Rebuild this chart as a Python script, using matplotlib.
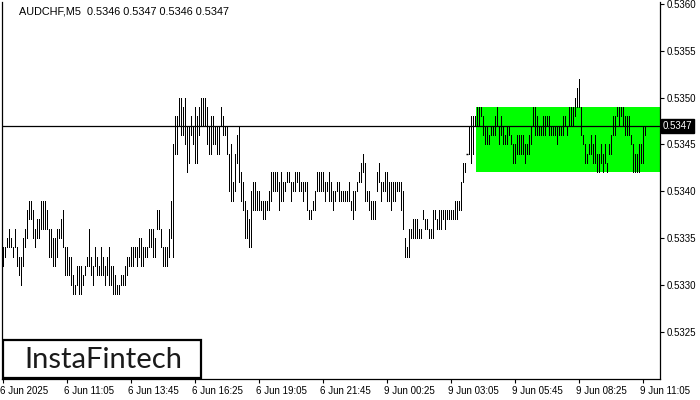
import matplotlib
matplotlib.use("Agg")
import numpy as np
import matplotlib.pyplot as plt
import matplotlib.transforms as mtrans
from matplotlib.patches import Rectangle

# AUDCHF M5 bars, high / low in pips above 0.5300
highs_pips = [34, 34, 35, 36, 35, 34, 36, 34, 33, 33,
              35, 36, 38, 39, 39, 38, 36, 37, 37, 39,
              39, 39, 38, 36, 36, 35, 35, 36, 36, 37,
              38, 34, 34, 33, 33, 31, 30, 32, 32, 32,
              31, 32, 33, 36, 33, 32, 34, 33, 32, 34,
              33, 32, 33, 34, 32, 32, 31, 30, 30, 31,
              31, 32, 33, 33, 34, 34, 34, 34, 35, 35,
              34, 34, 34, 36, 36, 36, 35, 38, 38, 36,
              34, 34, 34, 36, 39, 45, 48, 48, 50, 50,
              49, 50, 47, 47, 48, 47, 49, 48, 49, 50,
              50, 50, 49, 47, 48, 48, 47, 47, 47, 49,
              48, 47, 47, 44, 45, 41, 44, 46, 47, 42,
              41, 39, 38, 37, 40, 41, 41, 40, 40, 39,
              39, 39, 39, 40, 42, 42, 42, 42, 41, 42,
              41, 41, 42, 42, 41, 41, 42, 42, 42, 41,
              41, 41, 41, 38, 38, 39, 40, 42, 42, 42,
              42, 41, 41, 42, 41, 40, 40, 41, 41, 40,
              40, 40, 40, 41, 39, 40, 40, 41, 42, 43,
              44, 43, 40, 40, 39, 39, 39, 42, 43, 41,
              41, 42, 42, 41, 41, 41, 41, 41, 41, 41,
              40, 35, 34, 36, 36, 37, 37, 37, 36, 36,
              38, 37, 37, 36, 36, 38, 38, 37, 38, 38,
              38, 38, 38, 38, 38, 38, 39, 39, 39, 41,
              43, 43, 44, 47, 48, 48, 48, 49, 49, 49,
              48, 47, 47, 46, 47, 47, 48, 49, 47, 48,
              47, 46, 47, 47, 46, 45, 45, 46, 46,
              46, 46, 45, 45, 46, 47, 49, 49, 48, 47,
              47, 48, 48, 48, 48, 47, 47, 47, 47, 47,
              47, 48, 48, 47, 49, 49, 49, 50, 51, 52,
              49, 46, 45, 44, 45, 46, 45, 46, 44, 44,
              45, 44, 45, 43, 45, 46, 48, 48, 49, 49,
              49, 49, 48, 48, 48, 46, 45, 44, 44, 45,
              45, 47, 47]
lows_pips = [32, 33, 34, 34, 34, 33, 34, 32, 31, 30,
             32, 34, 35, 37, 37, 35, 34, 35, 35, 36,
             36, 36, 36, 33, 33, 32, 32, 33, 35, 35,
             34, 31, 31, 31, 30, 29, 29, 30, 29, 29,
             30, 31, 32, 32, 31, 30, 32, 31, 31, 31,
             31, 30, 31, 30, 30, 29, 29, 29, 29, 30,
             30, 30, 31, 32, 32, 32, 33, 32, 33, 32,
             32, 33, 33, 34, 34, 33, 33, 36, 36, 34,
             32, 32, 32, 33, 35, 33, 44, 44, 47, 46,
             46, 45, 42, 43, 46, 45, 43, 43, 46, 47,
             47, 47, 45, 44, 44, 45, 45, 44, 44, 47,
             46, 46, 44, 40, 39, 39, 40, 43, 41, 39,
             38, 35, 35, 34, 34, 38, 38, 38, 38, 38,
             37, 37, 38, 38, 39, 40, 40, 40, 38, 39,
             39, 40, 41, 41, 39, 40, 40, 41, 40, 40,
             39, 40, 38, 37, 37, 38, 38, 40, 40, 40,
             40, 39, 40, 39, 39, 38, 39, 40, 39, 39,
             39, 39, 39, 39, 38, 37, 38, 40, 41, 41,
             42, 39, 39, 38, 37, 37, 37, 40, 41, 39,
             40, 40, 39, 39, 38, 39, 39, 40, 40, 38,
             36, 33, 33, 33, 35, 35, 35, 35, 35, 35,
             37, 36, 36, 35, 35, 35, 37, 36, 36, 36,
             37, 36, 37, 37, 37, 37, 37, 37, 38, 38,
             41, 42, 44, 44, 43, 44, 47, 47, 47, 48,
             46, 45, 45, 45, 46, 46, 46, 47, 45, 46,
             45, 45, 45, 46, 45, 43, 43, 44, 44,
             44, 44, 43, 44, 44, 45, 47, 46, 46, 46,
             46, 46, 46, 47, 46, 46, 46, 46, 45, 46,
             46, 46, 47, 46, 47, 47, 47, 48, 49, 49,
             46, 45, 43, 43, 44, 44, 43, 43, 42, 42,
             43, 42, 43, 42, 44, 44, 46, 46, 48, 47,
             48, 47, 46, 46, 46, 45, 42, 42, 42, 42,
             43, 43, 46]

highs = 0.53 + np.array(highs_pips) / 10000
lows = 0.53 + np.array(lows_pips) / 10000
bars = np.arange(len(highs))

last_price = 0.5347
box_low, box_high, box_start = 0.5342, 0.5349, 237
tick_pos = [0, 32, 64, 96, 128, 160, 192, 224, 256, 288, 320]
tick_labels = ["6 Jun 2025", "6 Jun 11:05", "6 Jun 13:45", "6 Jun 16:25",
               "6 Jun 19:05", "6 Jun 21:45", "9 Jun 00:25", "9 Jun 03:05",
               "9 Jun 05:45", "9 Jun 08:25", "9 Jun 11:05"]
y_ticks = [0.5325, 0.5330, 0.5335, 0.5340, 0.5345, 0.5350, 0.5355, 0.5360]

plt.rcParams['font.family'] = ['Liberation Sans', 'DejaVu Sans']

fig = plt.figure(figsize=(7, 4), dpi=100)
ax = fig.add_axes([2 / 700, 21 / 400, 658 / 700, 377 / 400])

# green pattern box
ax.add_patch(Rectangle((box_start - 0.5, box_low), 400, box_high - box_low,
                       facecolor="#00ff00", edgecolor="none", zorder=1))

ax.vlines(bars, lows, highs, color="black", linewidth=0.6, antialiased=False, zorder=3)
flat = highs == lows
ax.plot(bars[flat], highs[flat], marker="_", markersize=2, color="black",
        linestyle="none", zorder=3)

ax.axhline(last_price, color="black", linewidth=0.9, zorder=2)

ax.set_xlim(-0.5, 328.5)
ax.set_ylim(0.531994, 0.536021)

ax.yaxis.tick_right()
ax.set_yticks(y_ticks)
ax.set_yticklabels(["%.4f" % v for v in y_ticks])
ax.set_xticks(tick_pos)
ax.set_xticklabels(tick_labels, ha="left")
ax.tick_params(axis="both", labelsize=7, length=3, width=0.8, color="black", pad=2)
ax.spines["top"].set_visible(False)
for s in ["left", "right", "bottom"]:
    ax.spines[s].set_linewidth(0.9)

# shift x labels so they start at the tick
offset = mtrans.ScaledTranslation(-3 / 100, 0, fig.dpi_scale_trans)
for lab in ax.get_xticklabels():
    lab.set_transform(lab.get_transform() + offset)

ax.text(1.004, last_price, "%.4f" % last_price, transform=ax.get_yaxis_transform(),
        ha="left", va="center", fontsize=7, color="white",
        bbox=dict(boxstyle="square,pad=0.2", facecolor="black", edgecolor="black"),
        zorder=5, clip_on=False)

ax.text(17 / 658, 0.988, "AUDCHF,M5  0.5346 0.5347 0.5346 0.5347", transform=ax.transAxes,
        ha="left", va="top", fontsize=7.8, color="black")

# logo
ax.add_patch(Rectangle((1 / 658, 0.002), 198 / 658, 38 / 377, transform=ax.transAxes,
                       facecolor="white", edgecolor="black", linewidth=1.6, zorder=6))
ax.text(101 / 658, 19 / 377, "InstaFintech", transform=ax.transAxes,
        ha="center", va="center", fontsize=21, color="#1a1a1a",
        family=["Lato", "DejaVu Sans"], zorder=7)

fig.savefig("out.png", dpi=100)
